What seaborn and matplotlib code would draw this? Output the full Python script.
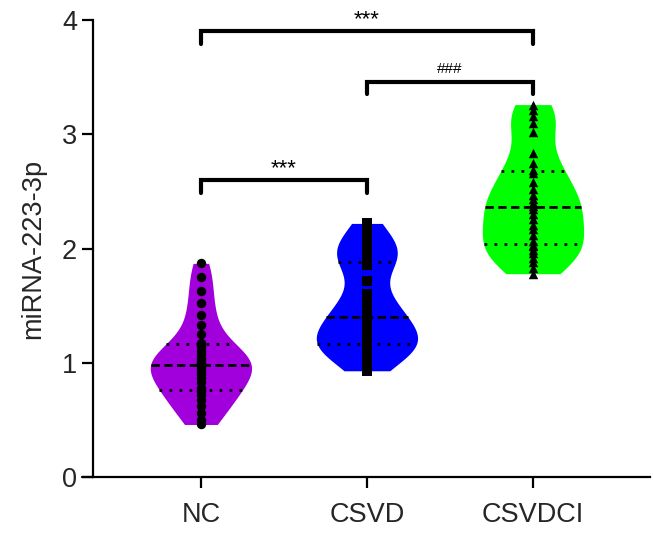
import numpy as np
import pandas as pd
import matplotlib.pyplot as plt
import seaborn as sns

# values
groups = ["NC", "CSVD", "CSVDCI"]
nc_vals = [0.46, 0.50, 0.56, 0.62, 0.67, 0.72, 0.75, 0.76, 0.78, 0.83,
           0.87, 0.90, 0.93, 0.95, 0.97, 0.99, 1.00, 1.02, 1.04, 1.07,
           1.10, 1.14, 1.17, 1.25, 1.33, 1.42, 1.52, 1.63, 1.75, 1.87]
csvd_vals = [0.93, 1.00, 1.04, 1.09, 1.12, 1.14, 1.15, 1.16, 1.18, 1.21,
             1.24, 1.27, 1.30, 1.34, 1.38, 1.42, 1.44, 1.49, 1.54, 1.60,
             1.72, 1.86, 1.89, 1.92, 1.95, 1.98, 2.02, 2.07, 2.14, 2.22]
csvdci_vals = [1.78, 1.83, 1.88, 1.92, 1.96, 1.99, 2.02, 2.03, 2.07, 2.12,
               2.17, 2.21, 2.26, 2.30, 2.35, 2.37, 2.40, 2.43, 2.47, 2.52,
               2.58, 2.66, 2.69, 2.75, 2.84, 3.02, 3.10, 3.16, 3.21, 3.26]
palette = ["#A100DC", "#0000FF", "#00FF00"]
markers = ["o", "s", "^"]

df = pd.DataFrame({
    "group": np.repeat(groups, [len(nc_vals), len(csvd_vals), len(csvdci_vals)]),
    "value": nc_vals + csvd_vals + csvdci_vals,
})

sns.set_theme(style="ticks")
plt.rcParams["font.family"] = ["Liberation Sans", "DejaVu Sans"]

fig = plt.figure(figsize=(6.53, 5.36), dpi=100)
ax = fig.add_axes([0.1424, 0.110, 0.853, 0.8526])

sns.violinplot(data=df, x="group", y="value", hue="group", order=groups,
               palette=palette, legend=False, inner="quart", cut=0,
               bw_adjust=0.8, density_norm="width", width=0.61, linewidth=0,
               saturation=1, inner_kws=dict(color="black", linewidth=2), ax=ax)

# dash patterns for the quartile / median lines
for i, ln in enumerate(ax.lines):
    if i % 3 == 1:
        ln.set_dashes([3, 1.6])
    else:
        ln.set_dashes([1, 2.6])

for g, m in zip(groups, markers):
    sns.stripplot(data=df[df["group"] == g], x="group", y="value", order=groups,
                  jitter=False, color="black", marker=m, size=6.8, linewidth=0,
                  zorder=3, ax=ax)


def bracket(x1, x2, y, h, label, fs, off):
    ax.plot([x1, x1, x2, x2], [y - h, y, y, y - h], color="black", lw=3,
            solid_joinstyle="miter", clip_on=False)
    ax.text((x1 + x2) / 2, y + off, label, ha="center", va="bottom",
            fontsize=fs, color="black")


bracket(0, 1, 2.60, 0.11, "***", 16, 0.01)
bracket(1, 2, 3.46, 0.11, "###", 11, 0.05)
bracket(0, 2, 3.90, 0.11, "***", 16, 0.01)

ax.set_ylim(0, 4)
ax.set_xlim(-0.65, 2.705)
ax.set_yticks([0, 1, 2, 3, 4])
ax.set_xlabel("")
ax.set_ylabel("miRNA-223-3p", fontsize=19.5, labelpad=11)
ax.tick_params(axis="both", length=8, width=1.6, labelsize=19.5, color="black")
ax.tick_params(axis="x", pad=10)
for s in ["top", "right"]:
    ax.spines[s].set_visible(False)
for s in ["left", "bottom"]:
    ax.spines[s].set_linewidth(1.6)
    ax.spines[s].set_color("black")
# bottom axis line runs a little past the y axis
ax.plot([-0.02, 0], [0, 0], transform=ax.transAxes, color="black", lw=1.6,
        clip_on=False)

plt.savefig("out.png", dpi=100)
